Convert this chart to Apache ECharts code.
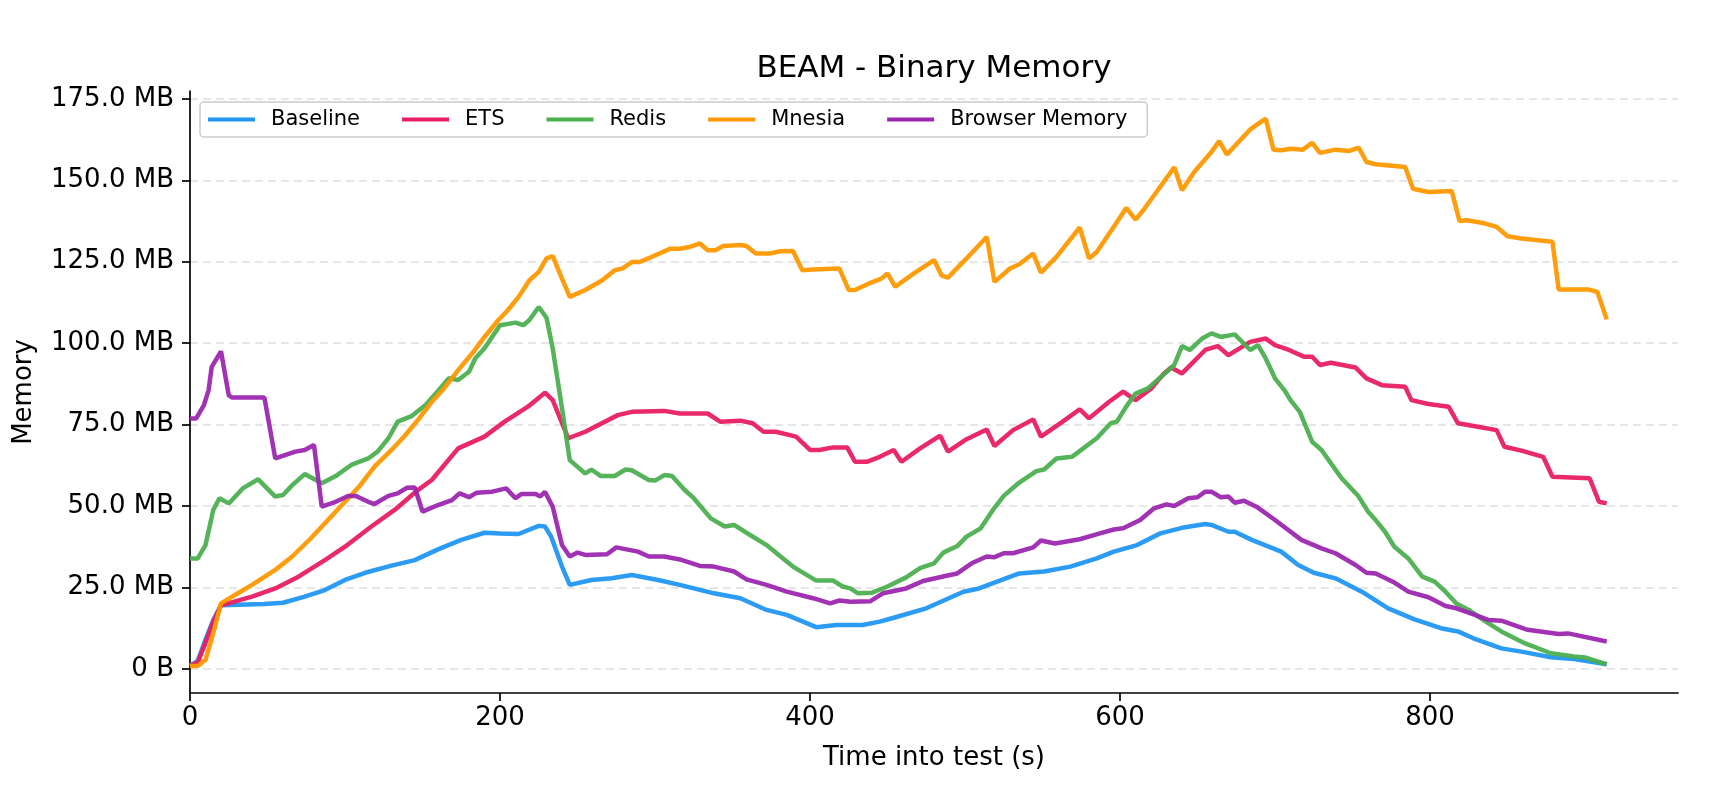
<!DOCTYPE html>
<html>
<head>
<meta charset="utf-8">
<title>BEAM - Binary Memory</title>
<script src="https://cdn.jsdelivr.net/npm/echarts@6/dist/echarts.min.js"></script>
<style>
  html, body { margin: 0; padding: 0; background: #fff; }
  #chart { width: 1724px; height: 792px; }
</style>
</head>
<body>
<div id="chart"></div>
<script>
// [time (s), memory (MB)]
const baseline = [[0,0.9],[5,2.5],[10,9],[15,15],[20,19.5],[48,19.9],[60,20.3],[74,22.2],[87,24.2],[100,27.3],[113,29.5],[130,31.7],[145,33.4],[160,36.7],[175,39.6],[190,41.8],[200,41.6],[212,41.4],[225,43.9],[229,43.7],[233,40.6],[240,31.4],[245,25.8],[259,27.3],[272,27.8],[285,28.8],[302,27.3],[316,25.8],[338,23.2],[355,21.7],[372,18.1],[385,16.6],[404,12.8],[417,13.5],[434,13.5],[445,14.5],[454,15.7],[475,18.6],[499,23.7],[509,24.7],[535,29.3],[551,29.9],[568,31.4],[585,33.9],[596,36],[611,38],[626,41.6],[640,43.3],[655,44.5],[659,44.2],[670,42.1],[674,42.1],[685,39.6],[704,36],[715,31.9],[725,29.5],[739,27.8],[756,23.7],[773,18.6],[790,15.2],[807,12.5],[818,11.5],[828,9.4],[846,6.3],[859,5.3],[878,3.6],[893,3.0],[914,1.4]]

const ets = [[0,0.9],[5,2],[10,8],[15,14.5],[20,19.5],[40,22.2],[55,24.7],[70,28.3],[87,33.4],[100,37.5],[117,43.7],[132,48.8],[147,54.9],[156,58],[173,67.7],[190,71.3],[203,75.9],[218,80.5],[229,84.8],[234,82.5],[244,70.8],[255,72.8],[276,77.9],[285,78.9],[306,79.2],[316,78.4],[334,78.4],[342,75.9],[355,76.2],[363,75.4],[370,72.8],[378,72.8],[391,71.3],[400,67.2],[406,67.2],[415,68],[424,68],[429,63.6],[437,63.6],[445,65.1],[454,67.2],[459,63.6],[471,67.7],[484,71.6],[489,66.7],[501,70.5],[514,73.5],[519,68.4],[531,73.3],[544,76.6],[549,71.3],[563,75.9],[574,79.7],[580,76.9],[593,82],[602,85.1],[610,82.5],[620,86],[628,90.5],[633,92.5],[640,90.7],[655,97.9],[663,99.1],[670,96.3],[684,100.4],[694,101.4],[700,99.4],[709,97.9],[719,95.8],[724,95.8],[729,93.3],[736,94],[752,92.5],[759,89.2],[769,87.1],[784,86.6],[788,82.5],[799,81.3],[812,80.5],[818,75.4],[829,74.5],[843,73.3],[848,68.2],[859,67],[873,65.1],[879,59],[903,58.5],[909,51.3],[914,50.8]]

const redis = [[0,33.9],[5,33.9],[10,38],[15,48.8],[19,52.4],[25,50.8],[34,55.4],[44,58.2],[55,52.9],[60,53.4],[66,56.4],[74,59.8],[85,57],[94,59.2],[104,62.6],[115,64.6],[121,66.7],[128,70.8],[134,75.9],[143,77.6],[152,81],[160,85.3],[167,89.2],[173,88.7],[180,91.2],[184,95.3],[190,98.4],[200,105.5],[210,106.3],[215,105.5],[219,107.1],[225,111.1],[230,107.8],[234,98.4],[240,80],[245,64.1],[255,60],[259,61.2],[265,59.2],[274,59.2],[281,61.2],[285,61],[296,58],[300,57.8],[306,59.5],[311,59.2],[319,55],[325,52.4],[336,46.2],[345,43.7],[351,44.2],[359,41.8],[372,38],[381,34.5],[389,31.4],[404,27.1],[415,27.1],[421,25.3],[426,24.7],[431,23.2],[440,23.4],[450,25.3],[462,28.1],[471,30.9],[480,32.4],[486,35.7],[495,37.7],[501,40.6],[510,43.1],[518,48.8],[525,53.1],[535,57.2],[546,60.7],[551,61.2],[559,64.6],[569,65.1],[585,70.8],[594,75.4],[598,75.9],[604,80.5],[610,84.5],[618,86.1],[629,90.7],[635,93.3],[640,99.1],[645,97.9],[653,101.4],[659,103],[665,101.9],[674,102.7],[684,97.9],[689,99.4],[694,95.3],[700,89.2],[706,85.6],[710,82.5],[716,78.9],[724,69.7],[730,67.2],[743,58.5],[754,52.9],[760,48.3],[764,46.2],[771,42.1],[777,37.5],[786,33.9],[795,28.3],[803,26.8],[810,23.7],[817,20.1],[825,18.1],[836,14.5],[846,11.5],[861,7.9],[878,4.8],[893,3.8],[900,3.5],[914,1.4]]

const mnesia = [[0,0.9],[5,0.9],[10,2.8],[15,11],[20,20.1],[29,22.7],[40,25.8],[55,30.4],[66,34.5],[78,40.1],[89,45.7],[100,51.3],[109,55.9],[119,62.1],[130,67.2],[139,71.8],[147,76.4],[156,82],[163,85.6],[173,91.7],[182,96.8],[190,101.9],[199,107.1],[205,110.1],[212,114.2],[219,119.3],[225,121.9],[230,126],[234,126.7],[240,119.8],[245,114.2],[255,116.3],[266,119.3],[274,122.4],[279,122.9],[285,124.9],[290,124.9],[298,126.5],[310,129],[316,129],[323,129.6],[329,130.6],[334,128.5],[339,128.5],[344,129.8],[355,130.1],[359,129.8],[365,127.5],[374,127.5],[381,128.2],[389,128.3],[395,122.4],[402,122.6],[419,122.9],[425,116.3],[429,116.3],[437,118.1],[446,119.8],[450,121.4],[455,117.3],[467,121.4],[480,125.5],[485,120.7],[489,120.1],[501,126],[514,132.6],[519,118.8],[529,122.9],[535,124.2],[544,127.5],[549,121.6],[559,126.5],[574,135.5],[580,126],[585,128],[596,135.7],[604,141.5],[610,137.9],[615,140.8],[622,145.4],[635,154],[640,146.9],[648,152.6],[659,158.7],[664,162],[669,157.9],[676,161.5],[684,165.6],[694,168.9],[699,159.4],[704,159.2],[710,159.7],[718,159.4],[724,161.5],[729,158.4],[739,159.4],[748,159],[754,160],[759,155.6],[765,154.9],[784,154.1],[789,147.4],[799,146.4],[814,146.7],[819,137.5],[824,137.7],[834,136.9],[843,135.7],[850,132.8],[859,132.1],[879,131.1],[883,116.5],[902,116.5],[908,115.7],[914,107.3]]

const browser = [[0,76.9],[4,76.9],[9,81],[12,85.6],[14,92.7],[20,97.5],[25,84],[27,83.3],[48,83.3],[55,64.6],[68,66.7],[74,67.2],[80,68.7],[85,49.8],[94,51.3],[102,53.1],[107,53.1],[115,51.3],[119,50.6],[128,53.1],[134,53.9],[140,55.6],[145,55.7],[150,48.3],[160,50.3],[169,51.8],[174,53.9],[180,52.7],[185,54.1],[195,54.4],[204,55.4],[210,52.4],[214,53.7],[223,53.7],[226,52.9],[229,54.4],[234,49.8],[240,38],[245,34.5],[250,35.7],[255,35],[269,35.2],[275,37.3],[289,36],[296,34.5],[306,34.5],[316,33.6],[329,31.6],[338,31.4],[351,29.9],[359,27.5],[372,25.8],[385,23.7],[402,21.7],[413,20.1],[419,21],[426,20.6],[439,20.8],[447,23.2],[462,24.7],[473,27],[488,28.6],[495,29.3],[505,32.6],[514,34.5],[519,34.3],[525,35.5],[531,35.5],[544,37.3],[549,39.4],[558,38.5],[574,39.8],[587,41.6],[596,42.8],[602,43.2],[613,45.7],[622,49.3],[630,50.5],[635,50],[644,52.4],[650,52.7],[655,54.4],[659,54.4],[665,52.7],[670,52.9],[674,51],[680,51.6],[688,49.8],[700,45.7],[717,39.6],[730,37],[739,35.5],[752,31.9],[759,29.5],[765,29.3],[777,26.5],[786,23.7],[799,22],[810,19.3],[817,18.6],[829,16.6],[838,15],[846,14.8],[863,12],[883,10.7],[889,10.9],[914,8.4]]

const seriesNames = ['Baseline', 'ETS', 'Redis', 'Mnesia', 'Browser Memory']
const seriesColors = ['#2196F3', '#E91E63', '#4CAF50', '#FF9800', '#9C27B0']
const xTicks = [0, 200, 400, 600, 800]
const yTicks = [0, 25, 50, 75, 100, 125, 150, 175]

const FONT = 'DejaVu Sans'
const chart = echarts.init(document.getElementById('chart'))

const allData = [baseline, ets, redis, mnesia, browser]

chart.setOption({
  animation: false,
  textStyle: { fontFamily: FONT },
  title: {
    text: 'BEAM - Binary Memory',
    left: 934,
    top: 53,
    textAlign: 'center',
    padding: 0,
    textStyle: { fontFamily: FONT, fontSize: 31, fontWeight: 'normal', color: '#000' }
  },
  legend: {
    data: seriesNames,
    left: 200,
    top: 102,
    padding: [7, 20, 7, 8],
    itemGap: 42,
    itemWidth: 47,
    itemHeight: 4,
    icon: 'rect',
    borderColor: '#cccccc',
    borderWidth: 1.5,
    borderRadius: 4,
    backgroundColor: 'rgba(255,255,255,0.8)',
    textStyle: { fontFamily: FONT, fontSize: 21, color: '#000', padding: [2, 0, 0, 11] }
  },
  grid: { left: 190, right: 46, top: 91, bottom: 99 },
  xAxis: {
    type: 'value',
    min: 0,
    max: 960,
    name: 'Time into test (s)',
    nameLocation: 'middle',
    nameGap: 52,
    nameTextStyle: { fontFamily: FONT, fontSize: 26, color: '#000' },
    axisLine: { onZero: false, lineStyle: { color: '#000', width: 1.7 } },
    axisTick: { customValues: xTicks, length: 8, lineStyle: { color: '#000', width: 1.7 } },
    axisLabel: { customValues: xTicks, margin: 12, fontSize: 26, color: '#000', fontFamily: FONT },
    splitLine: { show: false }
  },
  yAxis: {
    type: 'value',
    min: -7.4,
    max: 177.4,
    name: 'Memory',
    nameLocation: 'middle',
    nameGap: 153,
    nameTextStyle: { fontFamily: FONT, fontSize: 26, color: '#000' },
    axisLine: { show: true, lineStyle: { color: '#000', width: 1.7 } },
    axisTick: { show: true, customValues: yTicks, length: 8, lineStyle: { color: '#000', width: 1.7 } },
    axisLabel: {
      customValues: yTicks,
      margin: 16,
      fontSize: 26,
      color: '#000',
      fontFamily: FONT,
      formatter: function (v) { return v === 0 ? '0 B' : v.toFixed(1) + ' MB' }
    },
    splitLine: { show: true, lineStyle: { color: '#dedede', width: 1.5, type: [8, 5] } }
  },
  series: seriesNames.map(function (name, i) {
    return {
      name: name,
      type: 'line',
      data: allData[i],
      showSymbol: false,
      symbol: 'none',
      smooth: false,
      color: seriesColors[i],
      lineStyle: { width: 4.5, color: seriesColors[i], opacity: 0.95 }
    }
  })
})
</script>
</body>
</html>
